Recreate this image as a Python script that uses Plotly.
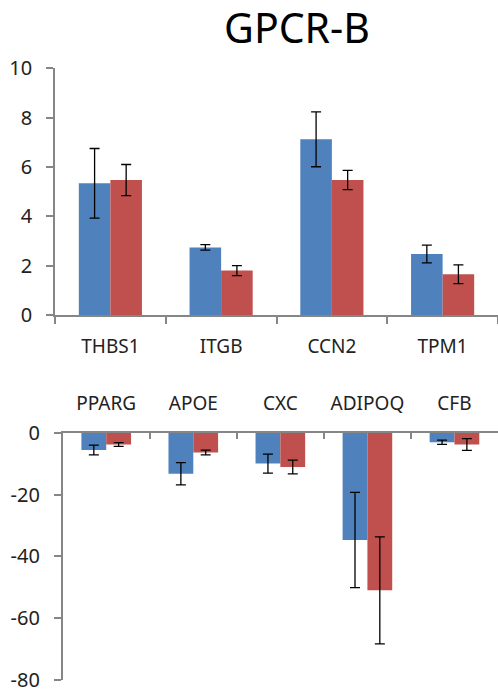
import plotly.graph_objects as go

W, H = 498, 690

up_genes = ["THBS1", "ITGB", "CCN2", "TPM1"]
up_blue = [5.34, 2.74, 7.12, 2.47]
up_blue_err = [1.41, 0.11, 1.11, 0.36]
up_red = [5.47, 1.80, 5.47, 1.65]
up_red_err = [0.63, 0.20, 0.39, 0.38]

down_genes = ["PPARG", "APOE", "CXC", "ADIPOQ", "CFB"]
down_blue = [-5.6, -13.3, -10.0, -34.7, -3.1]
down_blue_err = [1.6, 3.6, 3.1, 15.4, 0.7]
down_red = [-3.8, -6.4, -11.1, -51.0, -3.8]
down_red_err = [0.6, 0.75, 2.2, 17.3, 1.9]

top_ticks = [0, 2, 4, 6, 8, 10]
top_tick_labels = ["0", "2", "4", "6", "8", "10"]
bottom_ticks = [0, -20, -40, -60, -80]
bottom_tick_labels = ["0", "-20", "-40", "-60", "-80"]

BLUE = "#4F81BD"
RED = "#C0504D"
AX = "#868686"
FONT = "Noto Sans"

def err(vals):
    return dict(type="data", array=vals, color="black", thickness=1.3, width=5)

fig = go.Figure()
fig.add_trace(go.Bar(x=up_genes, y=up_blue, error_y=err(up_blue_err),
                     marker=dict(color=BLUE, line=dict(width=0)), xaxis="x", yaxis="y"))
fig.add_trace(go.Bar(x=up_genes, y=up_red, error_y=err(up_red_err),
                     marker=dict(color=RED, line=dict(width=0)), xaxis="x", yaxis="y"))
fig.add_trace(go.Bar(x=down_genes, y=down_blue, error_y=err(down_blue_err),
                     marker=dict(color=BLUE, line=dict(width=0)), xaxis="x2", yaxis="y2"))
fig.add_trace(go.Bar(x=down_genes, y=down_red, error_y=err(down_red_err),
                     marker=dict(color=RED, line=dict(width=0)), xaxis="x2", yaxis="y2"))

tickfont = dict(family=FONT, size=19, color="#222222")
ytickfont = dict(family=FONT, size=20, color="#222222")

common = dict(showline=True, linecolor=AX, linewidth=1.5, tickcolor=AX, tickwidth=1.5,
              ticklen=7, showgrid=False, zeroline=False, automargin=False,
              ticklabeloverflow="allow")

fig.update_layout(
    template="none",
    width=W, height=H,
    margin=dict(l=0, r=0, t=0, b=0, pad=0, autoexpand=False),
    paper_bgcolor="white", plot_bgcolor="white",
    showlegend=False,
    barmode="group", bargap=0.43, bargroupgap=0,
    font=dict(family=FONT),
    title=dict(text="GPCR-B", x=297 / W, y=1 - 29 / H, xanchor="center", yanchor="middle",
               xref="paper", yref="paper", automargin=False,
               font=dict(family=FONT, size=41, color="black")),
    xaxis=dict(domain=[55 / W, 1], anchor="y", type="category",
               ticks="outside", tickson="boundaries",
               tickfont=tickfont, ticklabelstandoff=13, **common),
    yaxis=dict(domain=[1 - 315 / H, 1 - 68.3 / H], anchor="x", range=[0, 10],
               tickvals=top_ticks, ticktext=top_tick_labels, ticks="outside",
               tickfont=ytickfont, ticklabelstandoff=10, **common),
    xaxis2=dict(domain=[62.7 / W, 1], anchor="y2", type="category", side="top",
                ticks="inside", tickson="boundaries",
                tickfont=tickfont, ticklabelstandoff=13, **common),
    yaxis2=dict(domain=[1 - 680 / H, 1 - 432.7 / H], anchor="x2", range=[-80, 0],
                tickvals=bottom_ticks, ticktext=bottom_tick_labels, ticks="outside",
                tickfont=ytickfont, ticklabelstandoff=10, **common),
)

fig.write_html("out.html", config={"displayModeBar": False},
               post_script="document.body.style.margin='0';document.body.style.overflow='hidden';")
